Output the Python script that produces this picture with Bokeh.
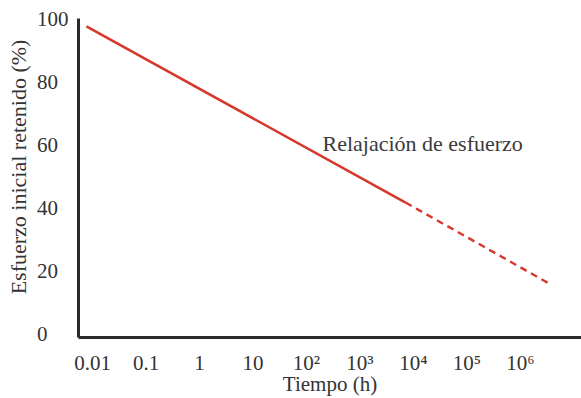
from bokeh.plotting import figure
from bokeh.models import FixedTicker, Label, Range1d
from bokeh.embed import file_html
from bokeh.resources import INLINE

# Data
time_solid = [0.0077, 7100]
retained_solid = [97.8, 41.7]
time_dashed = [7100, 3.2e6]
retained_dashed = [41.7, 16.2]

x_ticks = [0.01, 0.1, 1, 10, 100, 1000, 1e4, 1e5, 1e6]
x_tick_labels = ["0.01", "0.1", "1", "10", "10²", "10³", "10⁴", "10⁵", "10⁶"]
y_ticks = [0, 20, 40, 60, 80, 100]
y_tick_labels = ["0\u2007\u2007", "20\u2007", "40\u2007", "60\u2007", "80\u2007", "100"]

FONT = "Liberation Serif"
RED = "#d6382c"
AX = "#2b2b2b"
TXT = "#333333"

p = figure(width=581, height=398, x_axis_type="log",
           x_range=Range1d(0.00547, 1.38e7), y_range=Range1d(-1.27, 100.3),
           output_backend="svg", toolbar_location=None,
           min_border_left=78, min_border_right=0, min_border_top=18, min_border_bottom=61)
p.outline_line_color = None
p.grid.grid_line_color = None
p.background_fill_color = "white"

p.line(time_solid, retained_solid, line_color=RED, line_width=2.6)
p.line(time_dashed, retained_dashed, line_color=RED, line_width=2.4, line_dash="7 5")

p.add_layout(Label(x=199, y=60.6, text="Relajación de esfuerzo", text_font=FONT,
                   text_font_size="22px", text_color="#3a3a3a", text_baseline="alphabetic",
                   text_align="left"))

xa = p.xaxis[0]
xa.ticker = FixedTicker(ticks=x_ticks, minor_ticks=[])
xa.major_label_overrides = {t: l for t, l in zip(x_ticks, x_tick_labels)}
xa.axis_label = "Tiempo (h)"
ya = p.yaxis[0]
ya.ticker = FixedTicker(ticks=y_ticks, minor_ticks=[])
ya.major_label_overrides = {t: l for t, l in zip(y_ticks, y_tick_labels)}
ya.axis_label = "\u2007\u2007Esfuerzo inicial retenido (%)"

for ax in (xa, ya):
    ax.axis_line_color = AX
    ax.axis_line_width = 3
    ax.major_tick_line_color = None
    ax.minor_tick_line_color = None
    ax.major_tick_out = 0
    ax.major_tick_in = 0
    ax.major_label_text_font = FONT
    ax.major_label_text_font_size = "21px"
    ax.major_label_text_color = TXT
    ax.axis_label_text_font = FONT
    ax.axis_label_text_font_size = "21px"
    ax.axis_label_text_font_style = "normal"
    ax.axis_label_text_color = TXT

ya.axis_label_text_font_size = "22px"
xa.major_label_standoff = 13
xa.axis_label_standoff = -6
ya.major_label_standoff = 10
ya.axis_label_standoff = 3

open("out.html", "w").write(file_html(p, INLINE))
